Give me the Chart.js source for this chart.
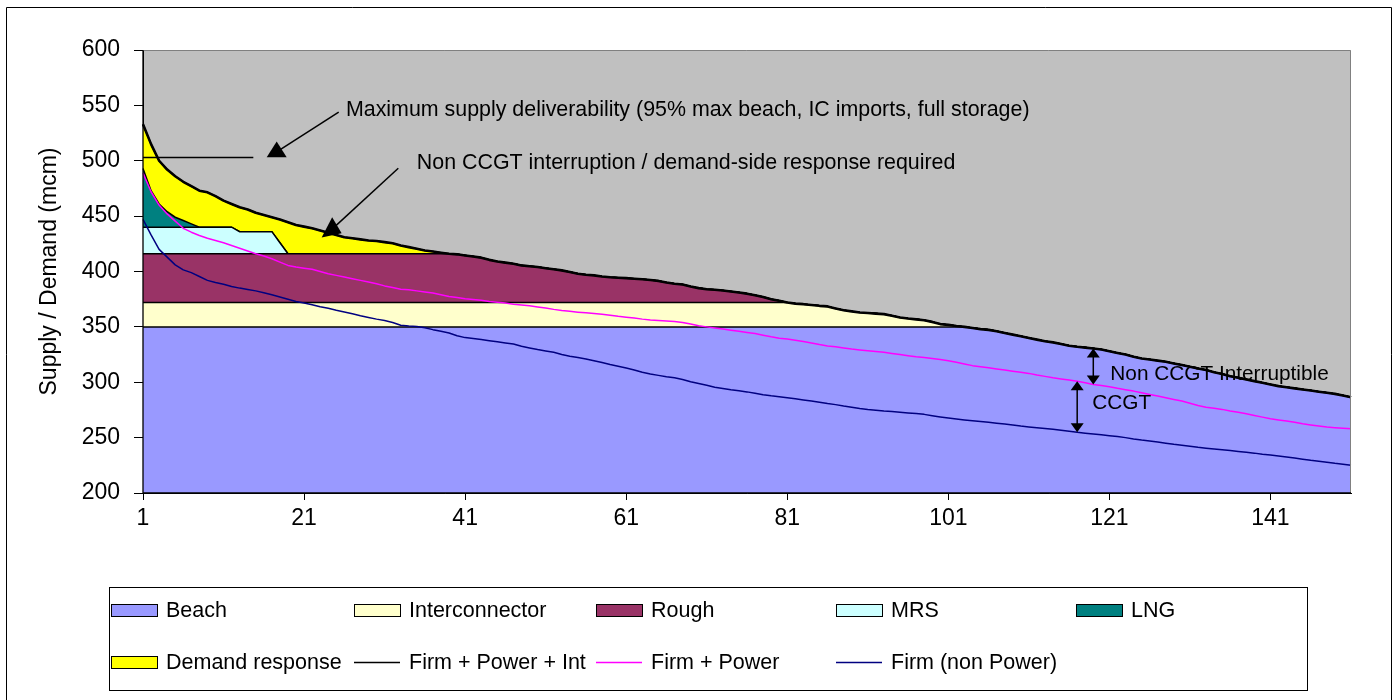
<!DOCTYPE html>
<html>
<head>
<meta charset="utf-8">
<title>Supply / Demand (mcm)</title>
<script src="https://cdn.jsdelivr.net/npm/chart.js@4.4.1/dist/chart.umd.min.js"></script>
<style>
  html, body { margin: 0; padding: 0; background: #ffffff; }
  canvas { display: block; }
</style>
</head>
<body>
<canvas id="chart" width="1398" height="700"></canvas>
<script>
// ---- Supply stack by day (mcm) ----
const beach = [
  350, 350, 350, 350, 350, 350, 350, 350, 350, 350,
  350, 350, 350, 350, 350, 350, 350, 350, 350, 350,
  350, 350, 350, 350, 350, 350, 350, 350, 350, 350,
  350, 350, 350, 350, 350, 350, 350, 350, 350, 350,
  350, 350, 350, 350, 350, 350, 350, 350, 350, 350,
  350, 350, 350, 350, 350, 350, 350, 350, 350, 350,
  350, 350, 350, 350, 350, 350, 350, 350, 350, 350,
  350, 350, 350, 350, 350, 350, 350, 350, 350, 350,
  350, 350, 350, 350, 350, 350, 350, 350, 350, 350,
  350, 350, 350, 350, 350, 350, 350, 350, 350, 350,
  350, 350, 350, 349, 348, 347.3, 346, 344.5, 343, 341.5,
  340, 338.5, 337, 336, 334.5, 333, 332, 331.3, 330.5, 329.5,
  328, 326.5, 325, 323, 321.5, 320.5, 319.5, 318.5, 317, 315.5,
  314, 312.5, 311, 309, 307.5, 305.5, 304, 302.5, 301, 299.5,
  298, 296.5, 295.5, 294.5, 293.5, 292.5, 291.5, 290.5, 289.5, 288, 286.5
];
const interconnector = [
  22, 22, 22, 22, 22, 22, 22, 22, 22, 22,
  22, 22, 22, 22, 22, 22, 22, 22, 22, 22,
  22, 22, 22, 22, 22, 22, 22, 22, 22, 22,
  22, 22, 22, 22, 22, 22, 22, 22, 22, 22,
  22, 22, 22, 22, 22, 22, 22, 22, 22, 22,
  22, 22, 22, 22, 22, 22, 22, 22, 22, 22,
  22, 22, 22, 22, 22, 22, 22, 22, 22, 22,
  22, 22, 22, 22, 22, 22, 22, 22, 22, 22,
  22, 21, 20.5, 19.8, 19, 18.5, 16.5, 15, 14, 13,
  12.5, 12, 11.5, 10, 8.5, 7.5, 6.8, 6, 4.5, 2.5,
  1.8, 0.8, 0, 0, 0, 0, 0, 0, 0, 0,
  0, 0, 0, 0, 0, 0, 0, 0, 0, 0,
  0, 0, 0, 0, 0, 0, 0, 0, 0, 0,
  0, 0, 0, 0, 0, 0, 0, 0, 0, 0,
  0, 0, 0, 0, 0, 0, 0, 0, 0, 0, 0
];
const rough = [
  44, 44, 44, 44, 44, 44, 44, 44, 44, 44,
  44, 44, 44, 44, 44, 44, 44, 44, 44, 44,
  44, 44, 44, 44, 44, 44, 44, 44, 44, 44,
  44, 44, 44, 44, 44, 44, 44, 44, 44, 43.5,
  42.5, 41.5, 40.5, 38.5, 37, 36, 35, 33.5, 32.8, 32,
  31, 30, 29, 27.5, 26, 25, 24.5, 23.5, 22.8, 22.4,
  22, 21.5, 21, 20.3, 19.5, 18, 17, 16.2, 14.5, 13,
  12, 11.5, 10.8, 10, 9, 8, 6.5, 5, 3, 1.5,
  0, 0, 0, 0, 0, 0, 0, 0, 0, 0,
  0, 0, 0, 0, 0, 0, 0, 0, 0, 0,
  0, 0, 0, 0, 0, 0, 0, 0, 0, 0,
  0, 0, 0, 0, 0, 0, 0, 0, 0, 0,
  0, 0, 0, 0, 0, 0, 0, 0, 0, 0,
  0, 0, 0, 0, 0, 0, 0, 0, 0, 0,
  0, 0, 0, 0, 0, 0, 0, 0, 0, 0, 0
];
const mrs = [
  24, 24, 24, 24, 24, 24, 24, 24, 24, 24,
  24, 24, 20, 20, 20, 20, 20, 10, 0, 0,
  0, 0, 0, 0, 0, 0, 0, 0, 0, 0,
  0, 0, 0, 0, 0, 0, 0, 0, 0, 0,
  0, 0, 0, 0, 0, 0, 0, 0, 0, 0,
  0, 0, 0, 0, 0, 0, 0, 0, 0, 0,
  0, 0, 0, 0, 0, 0, 0, 0, 0, 0,
  0, 0, 0, 0, 0, 0, 0, 0, 0, 0,
  0, 0, 0, 0, 0, 0, 0, 0, 0, 0,
  0, 0, 0, 0, 0, 0, 0, 0, 0, 0,
  0, 0, 0, 0, 0, 0, 0, 0, 0, 0,
  0, 0, 0, 0, 0, 0, 0, 0, 0, 0,
  0, 0, 0, 0, 0, 0, 0, 0, 0, 0,
  0, 0, 0, 0, 0, 0, 0, 0, 0, 0,
  0, 0, 0, 0, 0, 0, 0, 0, 0, 0, 0
];
const lng = [
  53, 33, 21, 14, 9, 6, 3, 0, 0, 0,
  0, 0, 0, 0, 0, 0, 0, 0, 0, 0,
  0, 0, 0, 0, 0, 0, 0, 0, 0, 0,
  0, 0, 0, 0, 0, 0, 0, 0, 0, 0,
  0, 0, 0, 0, 0, 0, 0, 0, 0, 0,
  0, 0, 0, 0, 0, 0, 0, 0, 0, 0,
  0, 0, 0, 0, 0, 0, 0, 0, 0, 0,
  0, 0, 0, 0, 0, 0, 0, 0, 0, 0,
  0, 0, 0, 0, 0, 0, 0, 0, 0, 0,
  0, 0, 0, 0, 0, 0, 0, 0, 0, 0,
  0, 0, 0, 0, 0, 0, 0, 0, 0, 0,
  0, 0, 0, 0, 0, 0, 0, 0, 0, 0,
  0, 0, 0, 0, 0, 0, 0, 0, 0, 0,
  0, 0, 0, 0, 0, 0, 0, 0, 0, 0,
  0, 0, 0, 0, 0, 0, 0, 0, 0, 0, 0
];
const demandResponse = [
  40, 42, 39, 38, 37, 35, 34, 33, 31.5, 28,
  24, 21, 22, 20, 17, 15, 13, 21, 28.5, 26,
  24.5, 23, 21, 19, 17, 15, 14, 13, 12, 11.5,
  10.5, 9.5, 7.5, 6, 4.5, 3, 2, 1, 0, 0,
  0, 0, 0, 0, 0, 0, 0, 0, 0, 0,
  0, 0, 0, 0, 0, 0, 0, 0, 0, 0,
  0, 0, 0, 0, 0, 0, 0, 0, 0, 0,
  0, 0, 0, 0, 0, 0, 0, 0, 0, 0,
  0, 0, 0, 0, 0, 0, 0, 0, 0, 0,
  0, 0, 0, 0, 0, 0, 0, 0, 0, 0,
  0, 0, 0, 0, 0, 0, 0, 0, 0, 0,
  0, 0, 0, 0, 0, 0, 0, 0, 0, 0,
  0, 0, 0, 0, 0, 0, 0, 0, 0, 0,
  0, 0, 0, 0, 0, 0, 0, 0, 0, 0,
  0, 0, 0, 0, 0, 0, 0, 0, 0, 0, 0
];

// ---- Demand curves by day (mcm) ----
const firmPowerInt = [
  533, 515, 500, 492, 486, 481, 477, 473, 471.5, 468,
  464, 461, 458, 456, 453, 451, 449, 447, 444.5, 442,
  440.5, 439, 437, 435, 433, 431, 430, 429, 428, 427.5,
  426.5, 425.5, 423.5, 422, 420.5, 419, 418, 417, 416, 415.5,
  414.5, 413.5, 412.5, 410.5, 409, 408, 407, 405.5, 404.8, 404,
  403, 402, 401, 399.5, 398, 397, 396.5, 395.5, 394.8, 394.4,
  394, 393.5, 393, 392.3, 391.5, 390, 389, 388.2, 386.5, 385,
  384, 383.5, 382.8, 382, 381, 380, 378.5, 377, 375, 373.5,
  372, 371, 370.5, 369.8, 369, 368.5, 366.5, 365, 364, 363,
  362.5, 362, 361.5, 360, 358.5, 357.5, 356.8, 356, 354.5, 352.5,
  351.8, 350.8, 350, 349, 348, 347.3, 346, 344.5, 343, 341.5,
  340, 338.5, 337, 336, 334.5, 333, 332, 331.3, 330.5, 329.5,
  328, 326.5, 325, 323, 321.5, 320.5, 319.5, 318.5, 317, 315.5,
  314, 312.5, 311, 309, 307.5, 305.5, 304, 302.5, 301, 299.5,
  298, 296.5, 295.5, 294.5, 293.5, 292.5, 291.5, 290.5, 289.5, 288, 286.5
];
const firmPower = [
  489, 472, 460, 452, 445.5, 439, 435.5, 432.5, 430, 428,
  426, 423.5, 421, 418.5, 416, 414, 411.5, 408.5, 405.5, 404,
  403, 402, 400, 398, 396.5, 395, 393.5, 392, 390.5, 389,
  387, 385.5, 384, 383.5, 382.5, 381.5, 380.5, 379, 377.5, 376.5,
  375.5, 374.8, 374, 373, 372.3, 371.5, 370.5, 369.8, 369, 368,
  367, 365.8, 364.8, 364, 363.3, 362.7, 362, 361.3, 360.5, 359.5,
  358.8, 358, 357, 356.2, 355.8, 355.3, 354.8, 354, 352.5, 351,
  350, 349, 348, 347, 346, 345, 344, 342.5, 341, 339.8,
  339, 338, 336.8, 335.5, 334, 332.8, 332, 331, 330, 329.2,
  328.5, 327.8, 327, 326, 325, 324, 323, 322.3, 321.5, 320.5,
  319.5, 318, 316.5, 315, 314, 313, 312, 311, 310, 309,
  308, 306.5, 305.3, 304, 303, 302, 301, 299.5, 298, 297,
  296, 294.5, 293.3, 292, 290.5, 289, 287.5, 286, 284.5, 283,
  281, 279, 277.5, 276.5, 275.5, 274, 273, 271.5, 270, 268.5,
  267, 266, 265, 263.8, 262.5, 261.5, 260.5, 259.5, 259, 258.5, 258
];
const firmNonPower = [
  447, 433, 420, 413, 406, 401.5, 399, 395.5, 392, 390,
  388.5, 386.5, 385, 383.8, 382.5, 380.8, 379, 377, 375, 373,
  371.5, 370, 368.2, 366.8, 365, 363.5, 361.8, 360, 358.5, 357,
  355.8, 354, 351.5, 350.8, 350.3, 349.3, 347.5, 346, 344.5, 342,
  340.3, 339.5, 338.5, 337.5, 336.5, 335.5, 334.5, 332.5, 331, 329.5,
  328.3, 327, 325, 323.5, 322.3, 321, 319.5, 317.8, 316, 314.5,
  312.8, 311, 309, 307.5, 306.2, 305, 304, 302.5, 300.5, 298.8,
  297.2, 295.5, 294.3, 293.2, 292.3, 291.3, 290, 288.8, 287.8, 287,
  286, 285, 284, 283, 282, 280.8, 279.8, 278.5, 277.5, 276.3,
  275.3, 274.7, 274, 273.5, 273, 272.3, 271.7, 271, 269.8, 268.7,
  267.7, 266.8, 266, 265.2, 264.5, 263.8, 263, 262.3, 261.5, 260.5,
  259.7, 259, 258.3, 257.5, 256.7, 255.8, 254.8, 254, 253.3, 252.5,
  251.8, 251, 250, 248.8, 247.8, 247, 246, 245, 244, 243.2,
  242.3, 241.3, 240.5, 239.8, 239, 238.3, 237.5, 236.7, 236, 235,
  234.3, 233.5, 232.5, 231.5, 230.5, 229.5, 228.7, 227.8, 226.8, 226, 225
];

// ---- Categories and axis ticks ----
const days = firmPowerInt.map((_, i) => String(i + 1));
const xTickDays = ['1', '21', '41', '61', '81', '101', '121', '141'];
const yMin = 200, yMax = 600, yStep = 50;

const FONT = '"Liberation Sans", Arial, sans-serif';

// Grey plot background, frame and outer border
const plotFrame = {
  id: 'plotFrame',
  beforeDraw(chart) {
    const { ctx, chartArea: a } = chart;
    ctx.save();
    ctx.fillStyle = '#ffffff';
    ctx.fillRect(0, 0, chart.width, chart.height);
    ctx.fillStyle = '#C0C0C0';
    ctx.fillRect(a.left, a.top, a.right - a.left, a.bottom - a.top);
    ctx.strokeStyle = '#000000';
    ctx.lineWidth = 1;
    ctx.beginPath();
    ctx.moveTo(6.5, 710);
    ctx.lineTo(6.5, 7.5);
    ctx.lineTo(1391.5, 7.5);
    ctx.lineTo(1391.5, 710);
    ctx.stroke();
    ctx.restore();
  },
  afterDatasetsDraw(chart) {
    const { ctx, chartArea: a } = chart;
    ctx.save();
    ctx.strokeStyle = '#808080';
    ctx.lineWidth = 1;
    ctx.beginPath();
    ctx.moveTo(a.left, a.top + 0.5);
    ctx.lineTo(a.right - 0.5, a.top + 0.5);
    ctx.lineTo(a.right - 0.5, a.bottom);
    ctx.stroke();
    ctx.strokeStyle = '#000000';
    ctx.lineWidth = 1.3;
    ctx.beginPath();
    ctx.moveTo(a.left, a.top);
    ctx.lineTo(a.left, a.bottom);
    ctx.lineTo(a.right, a.bottom);
    ctx.stroke();
    ctx.restore();
  }
};

// Callouts: capacity marker, pointer arrows, CCGT brackets
const callouts = {
  id: 'callouts',
  afterDatasetsDraw(chart) {
    const { ctx, chartArea: a, scales: { x, y } } = chart;
    const px = i => x.getPixelForValue(i);
    const py = v => y.getPixelForValue(v);
    const line = (x1, y1, x2, y2) => {
      ctx.beginPath(); ctx.moveTo(x1, y1); ctx.lineTo(x2, y2); ctx.stroke();
    };
    const poly = pts => {
      ctx.beginPath();
      ctx.moveTo(pts[0][0], pts[0][1]);
      for (let k = 1; k < pts.length; k++) ctx.lineTo(pts[k][0], pts[k][1]);
      ctx.closePath(); ctx.fill();
    };
    const doubleArrow = (xp, yTop, yBot) => {
      const hw = 6.5, hh = 9;
      line(xp, yTop + hh - 1, xp, yBot - hh + 1);
      poly([[xp, yTop], [xp - hw, yTop + hh], [xp + hw, yTop + hh]]);
      poly([[xp, yBot], [xp - hw, yBot - hh], [xp + hw, yBot - hh]]);
    };

    ctx.save();
    ctx.strokeStyle = '#000000';
    ctx.fillStyle = '#000000';
    ctx.lineWidth = 1.5;
    ctx.lineCap = 'butt';

    // maximum deliverability marker
    line(a.left, py(503), px(13.7), py(503));

    // pointer to the deliverability marker
    const c1x = px(16.6), c1y = py(508);
    line(px(24.3), py(544), c1x, c1y);
    poly([[c1x, c1y - 10.3], [c1x - 10, c1y + 5.3], [c1x + 10, c1y + 5.3]]);

    // pointer to the demand-side response block
    const c2x = px(23.45), c2y = py(438);
    line(px(31.7), py(493.2), c2x, c2y);
    poly([[c2x + 0.3, c2y - 12.1], [c2x - 10.2, c2y + 8.1], [c2x + 9.8, c2y + 3.9]]);

    ctx.font = '21.4px ' + FONT;
    ctx.textAlign = 'left';
    ctx.textBaseline = 'alphabetic';
    ctx.fillText('Maximum supply deliverability (95% max beach, IC imports, full storage)', px(25.2), py(540.4));
    ctx.fillText('Non CCGT interruption / demand-side response required', px(34.0), py(492.3));

    // brackets between the demand curves
    const iA = 118, iB = 116;
    const xA = px(iA), xB = px(iB);
    doubleArrow(xA, py(firmPowerInt[iA]), py(firmPower[iA]));
    doubleArrow(xB, py(firmPower[iB]), py(firmNonPower[iB]));
    ctx.font = '20.8px ' + FONT;
    ctx.fillText('Non CCGT Interruptible', xA + 17, py(firmPower[iA]) - 4);
    ctx.fillText('CCGT', xB + 15, (py(firmPower[iB]) + py(firmNonPower[iB])) / 2 + 2);
    ctx.restore();
  }
};

// Boxed two-row legend
const legendLayout = {
  box: { left: 109, top: 587, right: 1307, bottom: 690 },
  columns: [111, 354, 596, 836, 1076],
  rows: [610, 662],
  perRow: 5,
  keyW: 46, keyH: 12, textGap: 55
};
const boxedLegend = {
  id: 'boxedLegend',
  afterDraw(chart) {
    const { ctx } = chart;
    const L = legendLayout;
    ctx.save();
    ctx.fillStyle = '#ffffff';
    ctx.fillRect(L.box.left, L.box.top, L.box.right - L.box.left, L.box.bottom - L.box.top);
    ctx.strokeStyle = '#000000';
    ctx.lineWidth = 1;
    ctx.strokeRect(L.box.left + 0.5, L.box.top + 0.5, L.box.right - L.box.left, L.box.bottom - L.box.top);
    ctx.font = '21.5px ' + FONT;
    ctx.textBaseline = 'middle';
    ctx.textAlign = 'left';
    chart.data.datasets.forEach((ds, i) => {
      const col = i % L.perRow, row = Math.floor(i / L.perRow);
      const x0 = L.columns[col], yc = L.rows[row];
      if (ds.fill !== false) {
        ctx.fillStyle = ds.backgroundColor;
        ctx.fillRect(x0, yc - L.keyH / 2, L.keyW, L.keyH);
        ctx.strokeStyle = '#000000';
        ctx.lineWidth = 1;
        ctx.strokeRect(x0 + 0.5, yc - L.keyH / 2 + 0.5, L.keyW, L.keyH);
      } else {
        ctx.strokeStyle = ds.borderColor;
        ctx.lineWidth = 1.5;
        ctx.beginPath();
        ctx.moveTo(x0, yc + 0.5);
        ctx.lineTo(x0 + L.keyW, yc + 0.5);
        ctx.stroke();
      }
      ctx.fillStyle = '#000000';
      ctx.fillText(ds.label, x0 + L.textGap, yc + 1);
    });
    ctx.restore();
  }
};

const area = (label, data, color, fill) => ({
  label, data, fill, stack: 'supply', order: 1,
  backgroundColor: color, borderColor: '#000000', borderWidth: 1.5,
  pointRadius: 0, tension: 0
});
const curve = (label, data, color, width, stack) => ({
  label, data, fill: false, stack, order: 0,
  borderColor: color, backgroundColor: color, borderWidth: width,
  pointRadius: 0, tension: 0, borderJoinStyle: 'round'
});

new Chart(document.getElementById('chart'), {
  type: 'line',
  data: {
    labels: days,
    datasets: [
      area('Beach', beach, '#9999FF', 'start'),
      area('Interconnector', interconnector, '#FFFFCC', '-1'),
      area('Rough', rough, '#993366', '-1'),
      area('MRS', mrs, '#CCFFFF', '-1'),
      area('LNG', lng, '#008080', '-1'),
      area('Demand response', demandResponse, '#FFFF00', '-1'),
      curve('Firm + Power + Int', firmPowerInt, '#000000', 2.6, 'd1'),
      curve('Firm + Power', firmPower, '#FF00FF', 1.5, 'd2'),
      curve('Firm (non Power)', firmNonPower, '#000080', 1.5, 'd3')
    ]
  },
  options: {
    responsive: false,
    animation: false,
    devicePixelRatio: 1,
    events: [],
    layout: { padding: { top: 50, right: 47, bottom: 167, left: 0 } },
    plugins: {
      legend: { display: false },
      tooltip: { enabled: false },
      title: { display: false }
    },
    scales: {
      x: {
        type: 'category',
        offset: false,
        afterBuildTicks: scale => {
          scale.ticks = scale.ticks.filter(t => xTickDays.includes(days[t.value]));
        },
        afterFit: scale => { scale.height = 40; },
        grid: { drawOnChartArea: false, drawTicks: true, tickLength: 7, color: '#000000', lineWidth: 1 },
        border: { display: true, color: '#000000', width: 1 },
        ticks: {
          autoSkip: false, maxRotation: 0, minRotation: 0, padding: 5,
          color: '#000000', font: { family: FONT, size: 23 }
        }
      },
      y: {
        stacked: true,
        min: yMin, max: yMax,
        afterFit: scale => { scale.width = 143; },
        grid: { drawOnChartArea: false, drawTicks: true, tickLength: 9, color: '#000000', lineWidth: 1 },
        border: { display: true, color: '#000000', width: 1 },
        ticks: {
          stepSize: yStep, padding: 14,
          color: '#000000', font: { family: FONT, size: 23 }
        },
        title: {
          display: true, text: 'Supply / Demand (mcm)', color: '#000000',
          font: { family: FONT, size: 23 }, padding: { top: 36, bottom: 0 }
        }
      }
    }
  },
  plugins: [plotFrame, callouts, boxedLegend]
});
</script>
</body>
</html>
